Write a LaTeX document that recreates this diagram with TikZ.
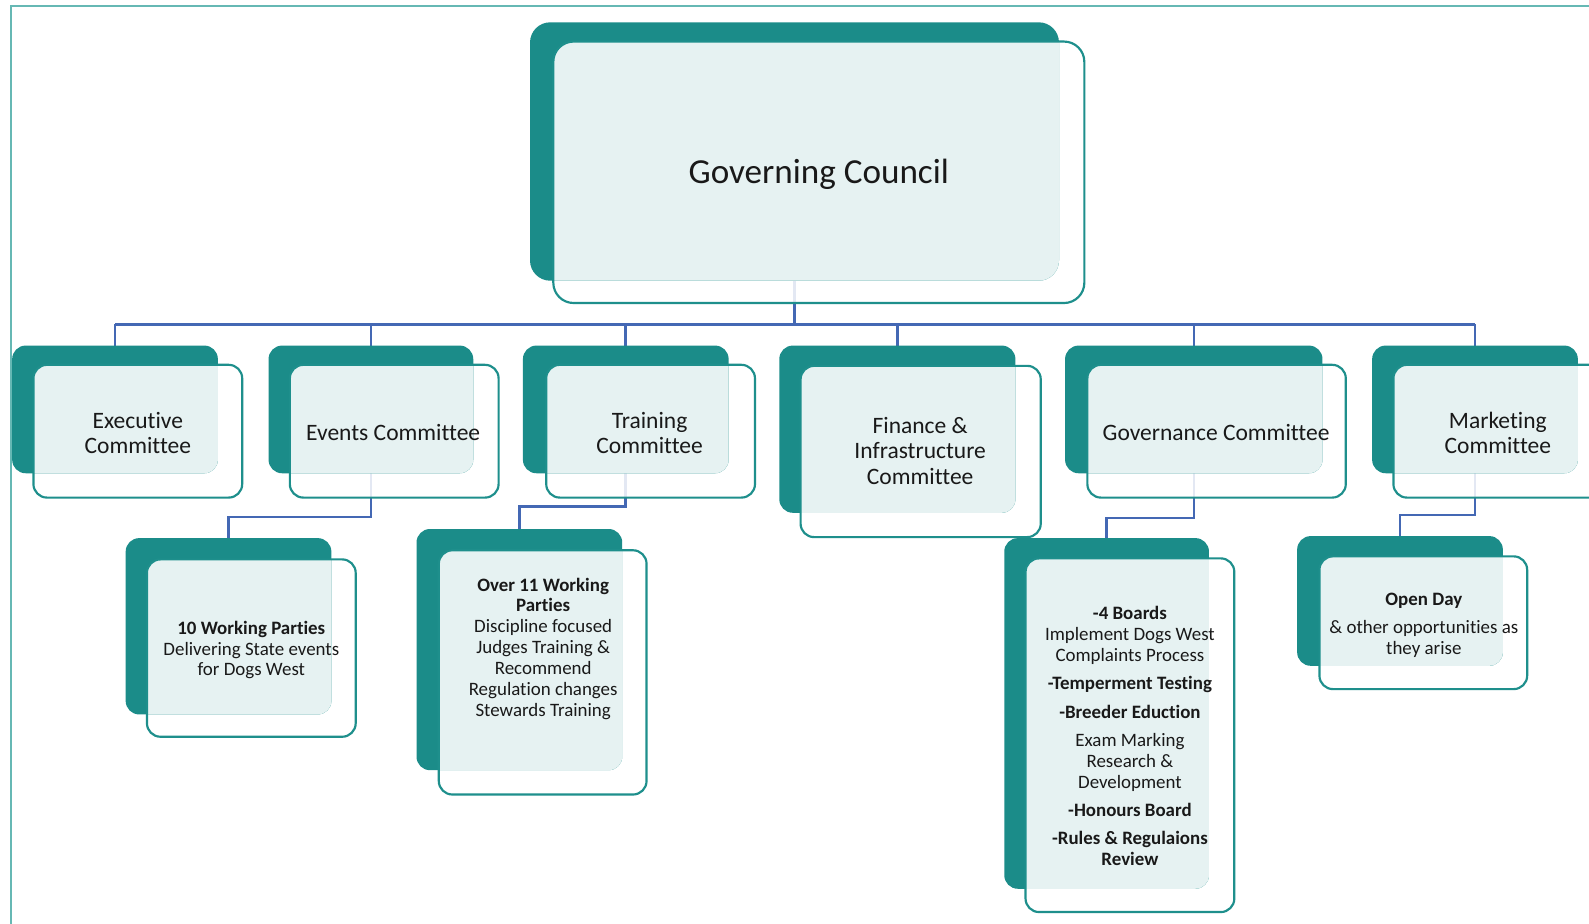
\documentclass[tikz,border=0pt]{standalone}
\usepackage{fontspec}
\setmainfont{Carlito}[Ligatures={NoCommon}]
\usetikzlibrary{fit}
\pgfdeclarelayer{lines}
\pgfdeclarelayer{whitefill}
\pgfdeclarelayer{back}
\pgfdeclarelayer{over}
\pgfsetlayers{lines,whitefill,back,over,main}

\definecolor{darkteal}{RGB}{27,140,137}
\definecolor{lightfill}{RGB}{230,242,242}
\definecolor{edgeteal}{RGB}{30,143,140}
\definecolor{framec}{RGB}{102,184,180}
\definecolor{linkblue}{RGB}{68,104,180}
\definecolor{txtc}{RGB}{25,25,25}

\tikzset{
  backbox/.style={rectangle, fill=darkteal, draw=none, inner sep=0pt, outer sep=0pt},
  frontbox/.style={rectangle, draw=edgeteal, line width=1.6pt, inner sep=0pt, outer sep=0pt},
  link/.style={draw=linkblue, line width=1.9pt},
  bigtxt/.style={font=\fontsize{26}{30}\selectfont, text=txtc},
  midtxt/.style={font=\fontsize{17.4}{18.8}\selectfont, align=center, text=txtc},
  smalltxt/.style={font=\fontsize{14}{15.4}\selectfont, align=center, text=txtc},
}

% #1 radius, #2 name, #3 back corners, #4 front corners
\newcommand\orgbox[4][10pt]{%
  \begin{pgfonlayer}{back}
    \node[backbox, rounded corners=#1, fit={#3}] (#2b) {};
  \end{pgfonlayer}
  \node[frontbox, rounded corners=#1, fit={#4}] (#2) {};
  \begin{pgfonlayer}{whitefill}
    \fill[white, fill opacity=0.85, rounded corners=#1] (#2.south west) rectangle (#2.north east);
  \end{pgfonlayer}
  \begin{pgfonlayer}{over}
    \begin{scope}
      \clip[rounded corners=#1] (#2b.south west) rectangle (#2b.north east);
      \fill[lightfill, rounded corners=#1] (#2.south west) rectangle (#2.north east);
    \end{scope}
  \end{pgfonlayer}
}

\begin{document}
\begin{tikzpicture}[x=0.75pt,y=-0.75pt]
\useasboundingbox (0,0) rectangle (1568,911);
\begin{pgfonlayer}{lines}
  \fill[white] (0,0) rectangle (1568,911);
\end{pgfonlayer}

% frame
\draw[framec, line width=1.7pt] (11,920) -- (11,5.6) -- (1580,5.6);

% top
\orgbox[15pt]{gc}{(523,22) (1045,277)}{(546,41) (1070,299)}
\node[bigtxt] (gct) at (808,172.5) {Governing Council};

% committees
\orgbox{ex}{(12,341) (215,467)}{(33,360) (239,491)}
\node[midtxt] (ext) at (136,427) {Executive\\Committee};
\orgbox{ev}{(265,341) (467,467)}{(286,360) (492,491)}
\node[midtxt] (evt) at (388,427) {Events Committee};
\orgbox{tr}{(516,341) (719,467)}{(539,360) (745,491)}
\node[midtxt] (trt) at (641,427) {Training\\Committee};
\orgbox{fi}{(769,341) (1002,506)}{(790,361) (1027,530)}
\node[midtxt] (fit) at (908,445) {Finance \&\\Infrastructure\\Committee};
\orgbox{go}{(1051,341) (1305,467)}{(1073,360) (1328,491)}
\node[midtxt] (got) at (1200,427) {Governance Committee};
\orgbox{mk}{(1354,341) (1557,467)}{(1375,360) (1595,491)}
\node[midtxt] (mkt) at (1478,427) {Marketing\\Committee};

% sub units
\orgbox{wp}{(124,531) (327,705)}{(145,552) (351,727)}
\node[smalltxt] (wpt) at (248,641.5) {\textbf{10 Working Parties}\\Delivering State events\\for Dogs West};
\orgbox{ov}{(411,522) (614,760)}{(433,543) (638,784)}
\node[smalltxt] (ovt) at (536,640) {\textbf{Over 11 Working}\\\textbf{Parties}\\Discipline focused\\Judges Training \&\\Recommend\\Regulation changes\\Stewards Training};
\orgbox{bd}{(991,531) (1193,877)}{(1012,551) (1218,900)}
\node[smalltxt] (bdt) at (1115,726.5) {\textbf{-4 Boards}\\Implement Dogs West\\Complaints Process\\[5.6pt]\textbf{-Temperment Testing}\\[5.6pt]\textbf{-Breeder Eduction}\\[5.6pt]Exam Marking\\Research \&\\Development\\[5.6pt]\textbf{-Honours Board}\\[5.6pt]\textbf{-Rules \& Regulaions}\\\textbf{Review}};
\orgbox{od}{(1280,529) (1483,657)}{(1302,549) (1507,680)}
\node[smalltxt] (odt) at (1405,617) {\textbf{Open Day}\\[5.6pt]\& other opportunities as\\they arise};

% connectors
\begin{pgfonlayer}{lines}
  \coordinate (bus) at (0,320);
  \draw[link] (gcb.south) -- (gcb.south |- bus);
  \draw[link] (exb.north |- bus) -- (mkb.north |- bus);
  \foreach \n in {ex,ev,tr,fi,go,mk}{
    \draw[link] (\n b.north |- bus) -- (\n b.north);
  }
  \coordinate (r1) at (0,510);
  \coordinate (r2) at (0,500);
  \coordinate (r3) at (0,511);
  \coordinate (r4) at (0,508);
  \draw[link] (evb.south) -- (evb.south |- r1) -| (wpb.north);
  \draw[link] (trb.south) -- (trb.south |- r2) -| (ovb.north);
  \draw[link] (gob.south) -- (gob.south |- r3) -| (bdb.north);
  \draw[link] (mkb.south) -- (mkb.south |- r4) -| (odb.north);
\end{pgfonlayer}
\end{tikzpicture}
\end{document}
